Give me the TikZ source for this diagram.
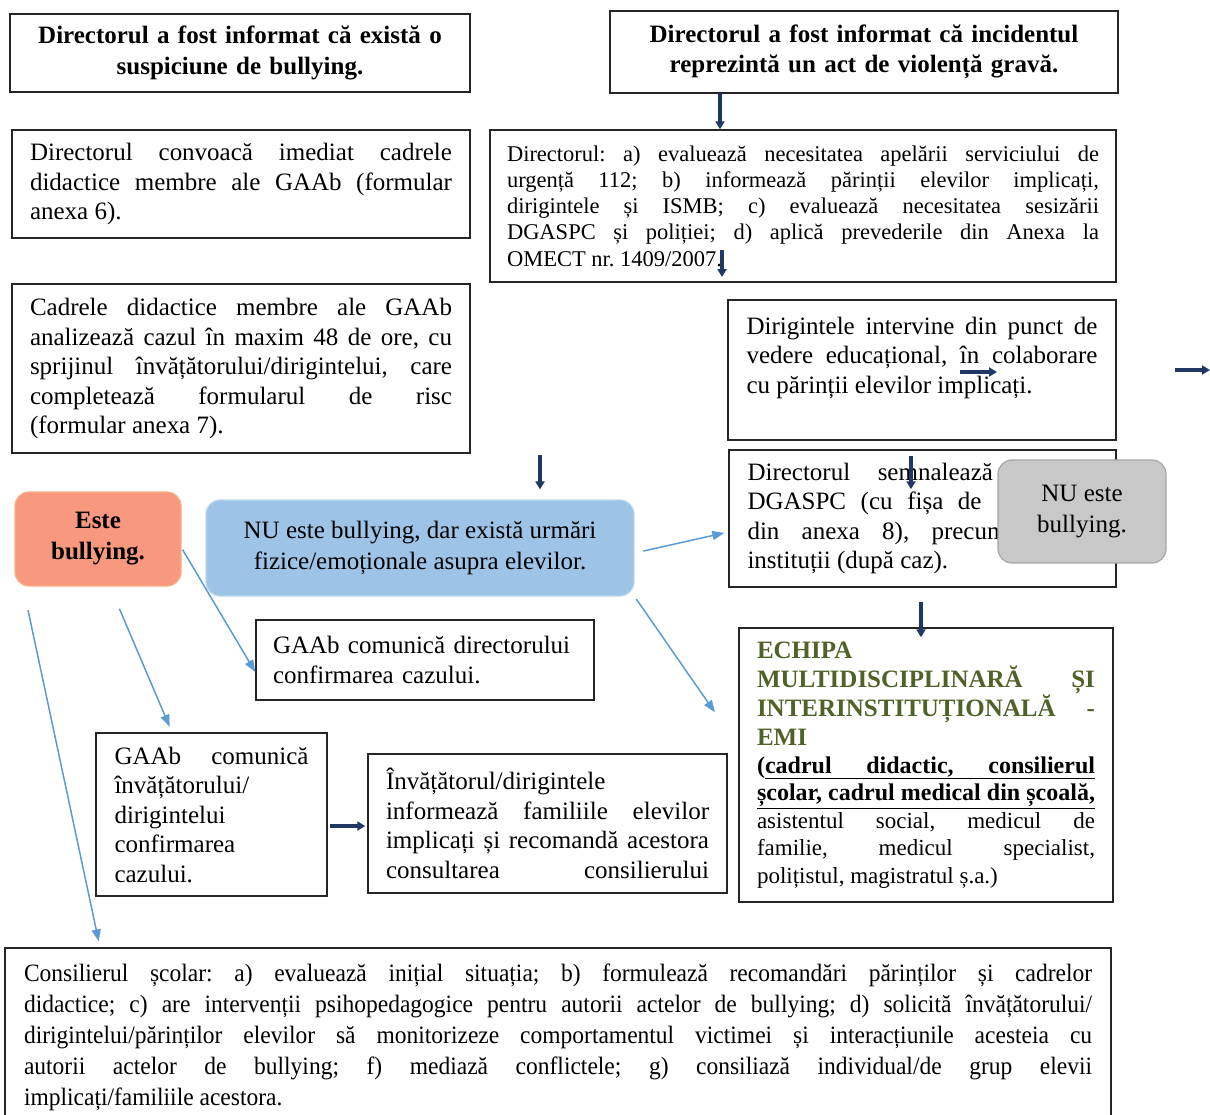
\documentclass[tikz,border=0pt]{standalone}
\usepackage{fontspec}
\setmainfont{Liberation Serif}
\newfontfamily\narrowserif[FakeStretch=0.94]{Liberation Serif}
\usetikzlibrary{positioning,arrows.meta,calc}
\definecolor{arrnavy}{RGB}{31,56,100}
\definecolor{arrblue}{RGB}{91,155,213}
\definecolor{emigreen}{RGB}{79,98,40}
\definecolor{salmonfill}{RGB}{248,152,126}
\definecolor{salmonline}{RGB}{244,177,131}
\definecolor{skyfill}{RGB}{157,195,230}
\definecolor{skyline}{RGB}{189,215,238}
\definecolor{greyfill}{RGB}{200,200,200}
\definecolor{greyline}{RGB}{166,166,166}
\hyphenpenalty=10000
\exhyphenpenalty=10000
\tolerance=10000
\frenchspacing

\begin{document}
\begin{tikzpicture}[x=1pt,y=-1pt,
	box/.style={draw=black!85,line width=1.5pt,inner sep=0pt,align=justify,font=\fontsize{25}{29.5}\selectfont},
	title/.style={box,align=center,font=\bfseries\fontsize{25}{30.5}\selectfont},
	round/.style={rounded corners=14pt,line width=1.2pt,inner sep=0pt,align=center,font=\fontsize{25}{31}\selectfont},
	arr/.style={draw=arrnavy,line width=3.5pt,-{Triangle[length=8pt,width=9pt]}},
	blarr/.style={draw=arrblue,line width=1.5pt,-{Triangle[length=12pt,width=9pt]}}
	]
	\useasboundingbox (0,0) rectangle (1210,1114);

	\node[title,minimum width=460,minimum height=78,text width=440] (ttl1) at (240,53)
		{Directorul a fost informat că există o\\suspiciune de bullying.};
	\node[title,minimum width=508,minimum height=82,text width=470] (ttl2) at (864,52)
		{Directorul a fost informat că incidentul\\reprezintă un act de violență gravă.};

	\node[box,minimum width=458,minimum height=108,text width=422] (conv) at (241,184)
		{Directorul convoacă imediat cadrele\linebreak didactice membre ale GAAb (formular\linebreak anexa 6).};
	\node[box,minimum width=626,minimum height=152,text width=592,font=\fontsize{22.5}{26.2}\selectfont] (dir) at (803,206)
		{Directorul: a) evaluează necesitatea apelării serviciului de\linebreak urgență 112; b) informează părinții elevilor implicați,\linebreak dirigintele și ISMB; c) evaluează necesitatea sesizării\linebreak DGASPC și poliției; d) aplică prevederile din Anexa la\linebreak OMECT nr. 1409/2007.};
	\node[box,minimum width=458,minimum height=169,text width=422] (anal) at (241,368.5)
		{Cadrele didactice membre ale GAAb\linebreak analizează cazul în maxim 48 de ore, cu\linebreak sprijinul învățătorului/dirigintelui, care\linebreak completează formularul de risc\linebreak (formular anexa 7).};
	\node[box,minimum width=388,minimum height=140,text width=351] (dirig) at (922,370)
		{Dirigintele intervine din punct de\linebreak vedere educațional, în colaborare\linebreak cu părinții elevilor implicați.\par\mbox{}};
	\node[box,minimum width=387,minimum height=137,text width=350] (semn) at (922.5,518.5)
		{Directorul semnalează \phantom{cazul la}\linebreak DGASPC (cu fișa de \phantom{semnalare}\linebreak din anexa 8), precum \phantom{și altor}\linebreak instituții (după caz).};
	\node[round,draw=greyline,fill=greyfill,minimum width=168,minimum height=103] (nub) at (1082,511.5)
		{NU este\\bullying.};

	\node[round,draw=salmonline,fill=salmonfill,minimum width=166,minimum height=94,font=\bfseries\fontsize{25}{31}\selectfont] (este) at (98,539)
		{Este\\bullying.};
	\node[round,draw=skyline,fill=skyfill,minimum width=428,minimum height=96] (urm) at (420,548)
		{NU este bullying, dar există urmări\\fizice/emoționale asupra elevilor.};

	\node[box,minimum width=338,minimum height=80,text width=304,align=left] (gdir) at (425,660)
		{GAAb comunică directorului\\confirmarea cazului.};
	\node[box,minimum width=374,minimum height=274,text width=338] (emi) at (926,765)
		{{\color{emigreen}\bfseries\fontsize{25}{29}\selectfont ECHIPA\\ MULTIDISCIPLINARĂ ȘI\linebreak INTERINSTITUȚIONALĂ -\linebreak EMI\par}
		\fontsize{23}{27.5}\selectfont{\bfseries\fontsize{24}{27.5}\selectfont (\underline{\makebox[330pt][s]{cadrul didactic, consilierul}}\\\underline{\makebox[338pt][s]{școlar, cadrul medical din școală,}}}\linebreak asistentul social, medicul de\linebreak familie, medicul specialist,\linebreak polițistul, magistratul ș.a.)\par};
	\node[box,minimum width=231,minimum height=163,text width=194] (gdrg) at (211.5,814.5)
		{GAAb comunică\linebreak învățătorului/\\dirigintelui\\confirmarea\\cazului.};
	\node[box,minimum width=359,minimum height=139,text width=323] (inv) at (547.5,823.5)
		{Învățătorul/dirigintele\\informează familiile elevilor\linebreak implicați și recomandă acestora\linebreak consultarea\hfill consilierului};
	\node[box,minimum width=1106,minimum height=178,text width=1068,font=\narrowserif\fontsize{25}{31}\selectfont] (cons) at (558,1037)
		{Consilierul școlar: a) evaluează inițial situația; b) formulează recomandări părinților și cadrelor\linebreak didactice; c) are intervenții psihopedagogice pentru autorii actelor de bullying; d) solicită învățătorului/\linebreak dirigintelui/părinților elevilor să monitorizeze comportamentul victimei și interacțiunile acesteia cu\linebreak autorii actelor de bullying; f) mediază conflictele; g) consiliază individual/de grup elevii\linebreak implicați/familiile acestora.};

	\coordinate (d1) at (722,250);
	\coordinate (d2) at (722,277);
	\coordinate (c1) at (540,455);
	\coordinate (h1) at (960,372);
	\coordinate (h2) at (997,372);
	\coordinate (r1) at (1175,370);
	\coordinate (r2) at (1210,370);

	\draw[arr] (ttl2.south -| 720,0) -- (dir.north -| 720,0);
	\draw[arr] (d1) -- (d2);
	\draw[arr,shorten <=15pt,shorten >=-40pt] (dirig.south -| 911,0) -- (semn.north -| 911,0);
	\draw[arr,shorten <=14pt,shorten >=-10pt] (semn.south -| 921,0) -- (emi.north -| 921,0);
	\draw[arr,shorten >=10pt] (c1) -- (urm.north -| 540,0);
	\draw[arr] (h1) -- (h2);
	\draw[arr] (r1) -- (r2);
	\draw[arr,shorten <=2pt,shorten >=2pt] (gdrg.east |- 0,826) -- (inv.west |- 0,826);

	\draw[blarr,shorten <=2pt] (este.east |- 0,548) -- (gdir.west |- 0,672);
	\draw[blarr,shorten <=24pt,shorten >=6pt] (este.south -| 110,0) -- (gdrg.north -| 172,0);
	\draw[blarr,shorten <=24pt,shorten >=6pt] (este.south -| 23,0) -- (cons.north -| 100,0);
	\draw[blarr,shorten <=9pt,shorten >=4pt] (urm.east |- 0,553) -- (semn.west |- 0,532);
	\draw[blarr,shorten <=3pt,shorten >=41pt] (urm.south east) -- (emi.west |- 0,746);

\end{tikzpicture}
\end{document}
